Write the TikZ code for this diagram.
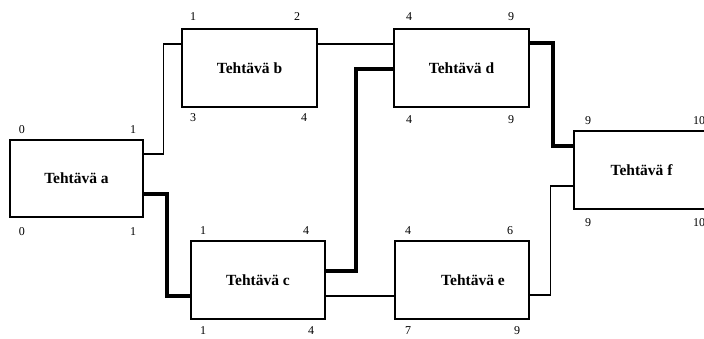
\documentclass[tikz,border=0pt]{standalone}
\usepackage{fontspec}
\setmainfont{Liberation Serif}
\begin{document}
\begin{tikzpicture}[x=1pt,y=-1pt,
  task/.style={draw,line width=1.4pt,fill=white,inner sep=0pt,font=\fontsize{15.5}{17}\selectfont\bfseries},
  num/.style={inner sep=0pt,font=\fontsize{12}{14}\selectfont},
  thin/.style={line width=1.2pt},
  crit/.style={line width=3.8pt}]
\useasboundingbox (0,0) rectangle (704,338);
\node[task,minimum width=133pt,minimum height=77pt] (a) at (76.5,178.5) {Tehtävä a};
\node[task,minimum width=135pt,minimum height=78pt] (b) at (249.5,68) {Tehtävä b};
\node[task,minimum width=135pt,minimum height=78pt] (d) at (461.5,68) {Tehtävä d};
\node[task,minimum width=134pt,minimum height=78pt] (c) at (258,280) {Tehtävä c};
\node[task,minimum width=134pt,minimum height=78pt] (e) at (462,280) {};
\node[task,draw=none,fill=none] (et) at (473,280) {Tehtävä e};
\node[task,minimum width=135pt,minimum height=78pt] (f) at (641.5,170) {Tehtävä f};
% numbers
\node[num] (a1) at (22,130) {0};  \node[num] (a2) at (133,130) {1};
\node[num] (a3) at (22,232) {0};  \node[num] (a4) at (133,232) {1};
\node[num] (b1) at (193,17) {1};  \node[num] (b2) at (297,17) {2};
\node[num] (b3) at (193,118) {3}; \node[num] (b4) at (304,118) {4};
\node[num] (d1) at (409,17) {4};  \node[num] (d2) at (511,17) {9};
\node[num] (d3) at (409,120) {4}; \node[num] (d4) at (511,120) {9};
\node[num] (c1) at (203,231) {1}; \node[num] (c2) at (306,231) {4};
\node[num] (c3) at (203,331) {1}; \node[num] (c4) at (311,331) {4};
\node[num] (e1) at (408,231) {4}; \node[num] (e2) at (510,231) {6};
\node[num] (e3) at (408,331) {7}; \node[num] (e4) at (517,331) {9};
\node[num] (f1) at (588,121) {9}; \node[num] (f2) at (699,121) {10};
\node[num] (f3) at (588,223) {9}; \node[num] (f4) at (699,223) {10};
% connectors
\draw[thin] ([yshift=24.5pt]a.east) -- ++(20,0) |- ([yshift=24pt]b.west);
\draw[crit] ([yshift=-15.5pt]a.east) -- ++(23,0) |- ([yshift=-16pt]c.west);
\draw[thin] ([yshift=24pt]b.east) -- ([yshift=24pt]d.west);
\draw[crit] ([yshift=9pt]c.east) -- ++(30,0) |- ([yshift=-1pt]d.west);
\draw[thin] ([yshift=-16pt]c.east) -- ([yshift=-16pt]e.west);
\draw[crit] ([yshift=25pt]d.east) -- ++(23,0) |- ([yshift=24pt]f.west);
\draw[thin] ([yshift=-15pt]e.east) -- ++(21,0) |- ([yshift=-16pt]f.west);
\end{tikzpicture}
\end{document}
